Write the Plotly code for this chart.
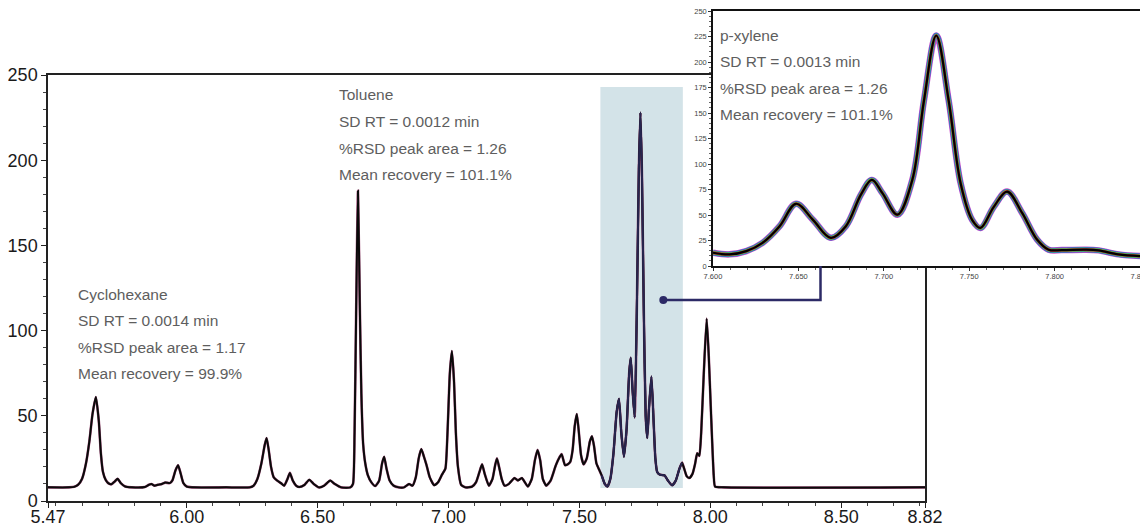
import plotly.graph_objects as go

# ---------------- data ----------------
main_time = [
    5.47, 5.55, 5.57, 5.585, 5.60, 5.615, 5.628, 5.640, 5.653, 5.664, 5.672, 5.680,
    5.690, 5.700, 5.712, 5.725, 5.736, 5.748, 5.765, 5.79, 5.84, 5.855, 5.865, 5.877,
    5.89, 5.905, 5.918, 5.935, 5.945, 5.957, 5.967, 5.977, 5.987, 6.00, 6.02, 6.15,
    6.24, 6.255, 6.27, 6.285, 6.298, 6.305, 6.313, 6.322, 6.332, 6.345, 6.36, 6.372,
    6.385, 6.394, 6.405, 6.418, 6.43, 6.45, 6.468, 6.485, 6.505, 6.525, 6.548, 6.565,
    6.59, 6.625, 6.635, 6.641, 6.647, 6.654, 6.661, 6.667, 6.674, 6.682, 6.692, 6.705,
    6.72, 6.735, 6.746, 6.754, 6.763, 6.775, 6.79, 6.81, 6.83, 6.849, 6.862, 6.875,
    6.886, 6.896, 6.906, 6.916, 6.928, 6.945, 6.96, 6.975, 6.988, 6.996, 7.005, 7.013,
    7.021, 7.028, 7.036, 7.048, 7.065, 7.09, 7.105, 7.118, 7.128, 7.138, 7.154, 7.168,
    7.178, 7.185, 7.193, 7.203, 7.214, 7.23, 7.252, 7.265, 7.28, 7.303, 7.318, 7.33,
    7.34, 7.35, 7.36, 7.373, 7.39, 7.41, 7.425, 7.432, 7.445, 7.455, 7.465, 7.474,
    7.482, 7.49, 7.498, 7.506, 7.516, 7.528, 7.54, 7.548, 7.556, 7.565, 7.575, 7.585,
    7.597, 7.607, 7.618, 7.630, 7.642, 7.651, 7.660, 7.670, 7.680, 7.690, 7.696, 7.703,
    7.711, 7.720, 7.727, 7.733, 7.739, 7.746, 7.753, 7.759, 7.766, 7.775, 7.783, 7.790,
    7.797, 7.807, 7.825, 7.838, 7.854, 7.868, 7.882, 7.892, 7.900, 7.91, 7.92, 7.932,
    7.942, 7.950, 7.958, 7.965, 7.975, 7.986, 7.994, 8.003, 8.013, 8.018, 8.05, 8.82,
]
main_signal = [
    8, 8, 8.3, 9.5, 13, 22, 35, 51, 61, 47, 28, 17,
    12.5, 10.5, 9.8, 11.5, 13, 10.5, 8.5, 8, 8.2, 9.5, 10, 9,
    9.5, 10, 10.8, 10.5, 12, 18, 21, 16, 10.5, 8.5, 8, 8,
    8, 9, 13, 22, 33, 37, 30, 20, 14, 12, 10.5, 9,
    13, 16.5, 12, 9, 8.2, 9.5, 12.5, 10, 8, 9, 12, 10,
    8, 8, 10, 40, 110, 182, 115, 63, 33, 22, 15, 11,
    8.8, 12, 22, 26, 19, 12, 9, 8, 8, 10, 9, 14,
    25, 30.5, 26, 21, 14, 9.3, 11, 15.5, 19, 40, 75, 88,
    70, 40, 20, 9.5, 8, 8.5, 11, 17, 21.5, 16, 9, 13,
    21, 25, 20, 13, 9, 10, 13.5, 12, 13.5, 8.5, 13, 24,
    30, 24, 13, 9, 12, 21, 26, 27.5, 21, 21.5, 23, 30,
    44, 51, 40, 27, 21.5, 25, 35, 38, 32, 22, 18.5, 15,
    10, 8.5, 13, 28, 52, 60, 40, 26, 42, 75, 84, 65,
    49, 120, 195, 228, 190, 110, 50, 37, 55, 73, 48, 25,
    17, 15.5, 15, 12, 9.2, 12, 19, 22.5, 19, 14.5, 13.5, 16,
    22, 28, 26.5, 40, 75, 107, 85, 50, 15, 8.5, 8, 8,
]

inset_time = [
    7.600, 7.6097, 7.6195, 7.629, 7.639, 7.6486, 7.6584, 7.669, 7.6778, 7.6866,
    7.693, 7.6992, 7.708, 7.7167, 7.7235, 7.7307, 7.738, 7.745, 7.7518, 7.7566,
    7.7644, 7.7722, 7.781, 7.7897, 7.7965, 7.8043, 7.8179, 7.8257, 7.8374, 7.850,
]
inset_signal = [
    13, 11.4, 14.6, 22.7, 39, 61, 45.5, 27.6, 39, 70,
    84.4, 71.4, 50.3, 84.4, 162, 226, 162, 81, 45, 37.3,
    58, 73, 52, 26, 16, 15.6, 16, 15.3, 11.4, 9.7,
]

x_tick_vals = [5.47, 6.0, 6.5, 7.0, 7.5, 8.0, 8.5, 8.82]
x_tick_text = ["5.47", "6.00", "6.50", "7.00", "7.50", "8.00", "8.50", "8.82"]
y_tick_vals = [0, 50, 100, 150, 200, 250]

inset_x_ticks = [7.60, 7.65, 7.70, 7.75, 7.80, 7.85]
inset_x_text = ["7.600", "7.650", "7.700", "7.750", "7.800", "7.850"]
inset_y_ticks = [0, 25, 50, 75, 100, 125, 150, 175, 200, 225, 250]

highlight_window = [7.580, 7.895]   # retention-time window shown in the inset

cyclohexane_lines = ["Cyclohexane", "SD RT = 0.0014 min", "%RSD peak area = 1.17", "Mean recovery = 99.9%"]
toluene_lines = ["Toluene", "SD RT = 0.0012 min", "%RSD peak area = 1.26", "Mean recovery = 101.1%"]
pxylene_lines = ["p-xylene", "SD RT = 0.0013 min", "%RSD peak area = 1.26", "Mean recovery = 101.1%"]

# ---------------- figure ----------------
# the page body has an 8px margin, so the figure is 8px smaller and all
# pixel positions below are given in window pixels and shifted by 8
OFF = 8
W, H = 1148 - OFF, 527 - OFF

FONT = "Liberation Sans, Arial, sans-serif"
NAVY = "#2c2a66"

def px(x): return (x - OFF) / W
def py(y): return 1 - (y - OFF) / H

fig = go.Figure()

# main chromatogram: faint replicate tint, black overlay
fig.add_trace(go.Scatter(x=main_time, y=main_signal, mode="lines",
                         line=dict(color="#a0507a", width=2.6, shape="spline", smoothing=0.5),
                         hoverinfo="skip", showlegend=False))
fig.add_trace(go.Scatter(x=main_time, y=main_signal, mode="lines",
                         line=dict(color="#0a0a0a", width=2.0, shape="spline", smoothing=0.5),
                         hoverinfo="skip", showlegend=False))
win_t = [t for t in main_time if highlight_window[0] <= t <= highlight_window[1]]
win_v = [v for t, v in zip(main_time, main_signal) if highlight_window[0] <= t <= highlight_window[1]]
fig.add_trace(go.Scatter(x=win_t, y=win_v, mode="lines",
                         line=dict(color="#27254f", width=2.0, shape="spline", smoothing=0.5),
                         hoverinfo="skip", showlegend=False))

# inset: replicate overlay band
halo = [("#c850c8", 6.5), ("#3a5fcd", 5.3), ("#2a9d9d", 4.4), ("#55c455", 3.6),
        ("#c83232", 2.9), ("#000000", 2.2)]
for col, wd in halo:
    fig.add_trace(go.Scatter(x=inset_time, y=inset_signal, mode="lines",
                             line=dict(color=col, width=wd, shape="spline", smoothing=1.0),
                             xaxis="x2", yaxis="y2", hoverinfo="skip", showlegend=False))

fig.update_layout(
    width=W, height=H,
    margin=dict(l=0, r=0, t=0, b=0, autoexpand=False),
    paper_bgcolor="white", plot_bgcolor="white",
    font=dict(family=FONT, color="#1a1a1a"),
    xaxis=dict(domain=[px(48), px(925)], range=[5.47, 8.82], anchor="y", automargin=False,
               tickmode="array", tickvals=x_tick_vals, ticktext=x_tick_text,
               ticks="outside", ticklen=5, tickwidth=1, tickcolor="#222",
               ticklabelstandoff=-6, ticklabeloverflow="allow",
               tickfont=dict(size=18, color="#1a1a1a"),
               showline=True, linecolor="#222", linewidth=1.5, mirror=True,
               showgrid=False, zeroline=False,
               minor=dict(tickmode="linear", tick0=0, dtick=0.1, ticks="outside",
                          ticklen=3, tickcolor="#444")),
    yaxis=dict(domain=[py(501), py(75)], range=[0, 250], anchor="x", automargin=False,
               tickmode="array", tickvals=y_tick_vals, ticklabeloverflow="allow",
               ticks="outside", ticklen=5, tickwidth=1, tickcolor="#222",
               tickfont=dict(size=18, color="#1a1a1a"),
               showline=True, linecolor="#222", linewidth=1.5, mirror=True,
               showgrid=False, zeroline=False,
               minor=dict(tickmode="linear", tick0=0, dtick=10, ticks="outside",
                          ticklen=3, tickcolor="#444")),
    xaxis2=dict(domain=[px(713), px(1140)], range=[7.60, 7.85], anchor="y2", automargin=False,
                tickmode="array", tickvals=inset_x_ticks, ticktext=inset_x_text,
                ticklabeloverflow="allow", ticklabelstandoff=-1,
                ticks="outside", ticklen=3, tickwidth=1, tickcolor="#333",
                tickfont=dict(size=7.5, color="#444"),
                showline=True, linecolor="#111", linewidth=1.5, mirror=True,
                showgrid=False, zeroline=False,
                minor=dict(tickmode="linear", tick0=0, dtick=0.01, ticks="outside",
                           ticklen=2, tickcolor="#666")),
    yaxis2=dict(domain=[py(266), py(11)], range=[0, 250], anchor="x2", automargin=False,
                tickmode="array", tickvals=inset_y_ticks, ticklabeloverflow="allow",
                ticks="outside", ticklen=3, tickwidth=1, tickcolor="#333",
                tickfont=dict(size=7.5, color="#444"),
                showline=True, linecolor="#111", linewidth=1.5, mirror=True,
                showgrid=False, zeroline=False,
                minor=dict(tickmode="linear", tick0=0, dtick=5, ticks="outside",
                           ticklen=2, tickcolor="#666")),
)

# highlighted window behind the main trace
fig.add_shape(type="rect", xref="x", yref="y",
              x0=highlight_window[0], x1=highlight_window[1], y0=7.6, y1=243,
              fillcolor="#d3e3e8", line=dict(width=0), layer="below")

# connector from window to inset
fig.add_shape(type="path", xref="paper", yref="paper",
              path=f"M {px(663)} {py(300)} L {px(820.5)} {py(300)} L {px(820.5)} {py(266)}",
              line=dict(color=NAVY, width=2.5), layer="above")
fig.add_shape(type="circle", xref="paper", yref="paper",
              x0=px(659.3), x1=px(667.3), y0=py(304), y1=py(296),
              fillcolor=NAVY, line=dict(color=NAVY, width=0), layer="above")

# text annotations
def block(lines, x, y0, step=26.6):
    for i, s in enumerate(lines):
        fig.add_annotation(x=px(x), y=py(y0 + i * step), xref="paper", yref="paper",
                           text=s, showarrow=False, xanchor="left", yanchor="middle",
                           font=dict(size=15.5, color="#5e5e5e", family=FONT))

block(cyclohexane_lines, 76, 294)
block(toluene_lines, 337, 95)
block(pxylene_lines, 718, 35)

fig.write_html("out.html")
